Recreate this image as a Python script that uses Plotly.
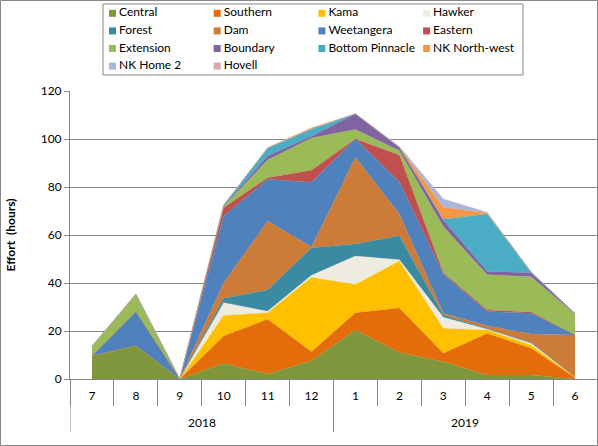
import plotly.graph_objects as go

years = ["2018"] * 6 + ["2019"] * 6
months = ["7", "8", "9", "10", "11", "12", "1", "2", "3", "4", "5", "6"]

series_names = ["Central", "Southern", "Kama", "Hawker", "Forest", "Dam", "Weetangera",
                "Eastern", "Extension", "Boundary", "Bottom Pinnacle", "NK North-west",
                "NK Home 2", "Hovell"]
colors = ["#7F963C", "#E46C0A", "#FFC000", "#EEECE1", "#3A8BA1", "#CC7B38", "#4F81BD",
          "#C0504D", "#9BBB59", "#8064A2", "#4BACC6", "#F79646", "#A9B8DA", "#DBA9A8"]

central = [9.6, 14, 0, 6.5, 2.1, 7.6, 20.4, 11, 7.2, 1.7, 1.7, 0]
southern = [0, 0, 0, 11.4, 22.8, 3.8, 7.2, 18.6, 3.5, 17.3, 11.1, 0.5]
kama = [0, 0, 0, 8.6, 2.7, 31, 11.8, 19.6, 10.4, 1.4, 1.4, 0.3]
hawker = [0, 0, 0, 5.3, 0.6, 0.8, 11.8, 0.5, 4.6, 0.3, 0.7, 0]
forest = [0, 0, 0, 1.8, 8.9, 11.5, 5, 10, 1, 0.3, 0.3, 0]
dam = [0, 0, 0, 6.5, 28.7, 0.3, 36.2, 9, 0.7, 1.2, 3.5, 17.5]
weetangera = [0, 14, 0, 27.8, 17.4, 27, 7.6, 13.5, 16.3, 5.9, 8.7, 0]
eastern = [0, 0, 0, 3.5, 0.7, 5, 0, 11.1, 0.6, 0.7, 0.5, 0]
extension = [4, 7.3, 0, 0.5, 7.4, 13.4, 4, 1.8, 19.2, 14.6, 14.7, 8.7]
boundary = [0, 0, 0, 0.3, 1.6, 0.7, 6.5, 1.4, 2.8, 1.4, 1.7, 0.3]
bottom_pinnacle = [0, 0, 0, 0.3, 3.2, 3, 0, 0, 0.3, 23.9, 0.3, 0]
nk_north_west = [0, 0, 0, 0, 0.3, 0.5, 0, 0.2, 5, 0.5, 0, 0]
nk_home_2 = [0, 0, 0, 0, 0, 0, 0, 0.2, 3.4, 0.2, 0, 0]
hovell = [0, 0, 0, 0, 0, 0, 0, 0, 0, 0, 0, 0]

values = [central, southern, kama, hawker, forest, dam, weetangera, eastern,
          extension, boundary, bottom_pinnacle, nk_north_west, nk_home_2, hovell]

FONT = "Lato, 'Open Sans', sans-serif"
GRAY = "#868686"
W, H = 598, 446
L, R, T, B = 70, 1, 1, 67          # plot region spans pixels y=1..379
plot_top_px = 91                   # main plotting area top edge in pixels
pw, ph = W - L - R, H - T - B


def py(p):
    """pixel y -> paper y"""
    return (H - B - p) / ph


def pxp(p):
    """pixel x -> paper x"""
    return (p - L) / pw


fig = go.Figure()
for name, col, vals in zip(series_names, colors, values):
    fig.add_trace(go.Scatter(
        x=months, y=vals, name=name, stackgroup="one", mode="lines",
        line=dict(width=0.3, color=col), fillcolor=col, showlegend=False,
        hoverinfo="skip"))

# ---- legend (4 columns) drawn on its own small axes above the plot ----
ncol = 4
col_x0, col_dx = 112.5, 104.7      # swatch centres (px)
row_y0, row_dy = 13.3, 17.6
lg_x = [col_x0 + (i % ncol) * col_dx for i in range(len(series_names))]
lg_y = [row_y0 + (i // ncol) * row_dy for i in range(len(series_names))]
fig.add_trace(go.Scatter(
    x=lg_x, y=lg_y, mode="markers", xaxis="x2", yaxis="y2",
    marker=dict(symbol="square", size=7, color=colors, line=dict(width=0)),
    showlegend=False, hoverinfo="skip"))
fig.add_trace(go.Scatter(
    x=[v + 6.5 for v in lg_x], y=lg_y, mode="text", xaxis="x2", yaxis="y2",
    text=series_names, textposition="middle right",
    textfont=dict(family=FONT, size=12, color="#000"),
    showlegend=False, hoverinfo="skip", cliponaxis=False))

# year group labels and dividers
groups = []
for i, yr in enumerate(years):
    if not groups or groups[-1][0] != yr:
        groups.append([yr, i, i])
    else:
        groups[-1][2] = i

annotations = []
shapes = []
for yr, i0, i1 in groups:
    annotations.append(dict(x=(i0 + i1) / 2, y=py(423), xref="x", yref="paper",
                            text=yr, showarrow=False, yanchor="middle",
                            font=dict(family=FONT, size=12, color="#000")))
    shapes.append(dict(type="line", xref="x", yref="paper", x0=i0 - 0.5, x1=i0 - 0.5,
                       y0=py(379), y1=py(432), line=dict(color=GRAY, width=1)))

# chart border and legend box
shapes += [
    dict(type="rect", xref="paper", yref="paper",
         x0=pxp(0.5), x1=pxp(597.5), y0=py(445.5), y1=py(0.5),
         line=dict(color=GRAY, width=1), fillcolor="rgba(0,0,0,0)", layer="above"),
    dict(type="rect", xref="paper", yref="paper",
         x0=pxp(103), x1=pxp(523), y0=py(75), y1=py(4),
         line=dict(color=GRAY, width=1), fillcolor="rgba(0,0,0,0)", layer="below"),
]

fig.update_layout(
    width=W, height=H,
    margin=dict(l=L, r=R, t=T, b=B, autoexpand=False),
    paper_bgcolor="white", plot_bgcolor="white",
    font=dict(family=FONT, size=12, color="#000"),
    showlegend=False,
    xaxis=dict(type="category", range=[-0.5, 11.5], autorange=False,
               showline=True, linecolor=GRAY, automargin=False,
               ticks="outside", tickson="boundaries", ticklen=26,
               tickcolor=GRAY, ticklabelstandoff=6,
               showgrid=False, zeroline=False,
               tickfont=dict(family=FONT, size=12, color="#000")),
    yaxis=dict(domain=[0, py(plot_top_px)], range=[0, 120], dtick=20,
               showgrid=True, gridcolor=GRAY, gridwidth=1, automargin=False,
               showline=True, linecolor=GRAY, ticks="outside",
               ticklen=5, tickcolor=GRAY, zeroline=False,
               tickfont=dict(family=FONT, size=12, color="#000"),
               title=dict(text="<b>Effort\u00a0 (hours)</b>", standoff=22,
                          font=dict(family=FONT, size=12, color="#000"))),
    xaxis2=dict(domain=[0, 1], range=[L, W - R], anchor="y2", visible=False,
                fixedrange=True, automargin=False),
    yaxis2=dict(domain=[py(76), 1], range=[76, T], anchor="x2", visible=False,
                fixedrange=True, automargin=False),
    annotations=annotations,
    shapes=shapes,
)

fig.write_html("out.html")
